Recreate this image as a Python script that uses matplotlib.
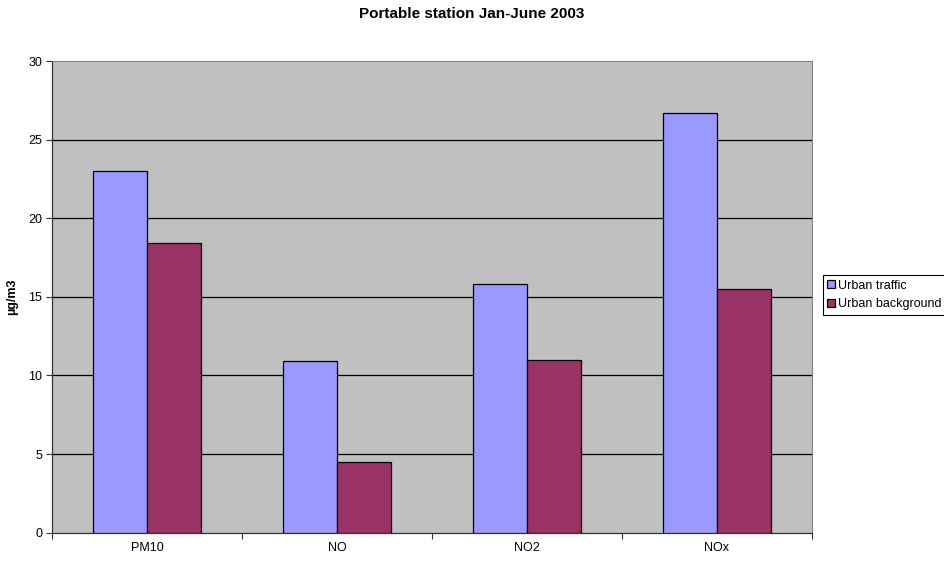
import matplotlib
matplotlib.use("Agg")
import matplotlib.pyplot as plt
import numpy as np

categories = ["PM10", "NO", "NO2", "NOx"]
urban_traffic = [23.0, 10.9, 15.8, 26.7]
urban_background = [18.4, 4.5, 11.0, 15.5]
series_names = ["Urban traffic", "Urban background"]
title = "Portable station Jan-June 2003"
ylabel = "µg/m3"
yticks = [0, 5, 10, 15, 20, 25, 30]

plt.rcParams['font.family'] = ['Liberation Sans', 'DejaVu Sans']

fig = plt.figure(figsize=(9.45, 5.63), dpi=100)
ax = fig.add_axes([52/945, (563-532.7)/563, (812-52)/945, (532.7-61)/563])
ax.set_facecolor("#C0C0C0")

x = np.arange(len(categories))
w = 0.284
ax.bar(x - w/2, urban_traffic, width=w, color="#9999FF", edgecolor="black", linewidth=0.9, label=series_names[0], zorder=3)
ax.bar(x + w/2, urban_background, width=w, color="#993366", edgecolor="black", linewidth=0.9, label=series_names[1], zorder=3)

ax.set_xlim(-0.5, len(categories) - 0.5)
ax.set_ylim(0, 30)
ax.set_yticks(yticks)
ax.set_yticklabels([str(t) for t in yticks], fontsize=9)
for t in yticks[1:-1]:
    ax.axhline(t, color="black", linewidth=0.9, zorder=1)

ax.set_xticks(np.arange(len(categories) + 1) - 0.5)
ax.set_xticklabels([])
ax.set_xticks(x, minor=True)
ax.set_xticklabels(categories, minor=True, fontsize=9)
ax.tick_params(axis='x', which='minor', length=0, pad=7)
ax.tick_params(axis='x', which='major', length=4, direction='out', color='#333333')
ax.tick_params(axis='y', length=4, direction='out', color='#333333', pad=3)

for s in ['top', 'right']:
    ax.spines[s].set_color('#808080')
    ax.spines[s].set_linewidth(0.8)
for s in ['left', 'bottom']:
    ax.spines[s].set_color('#333333')
    ax.spines[s].set_linewidth(0.9)

ax.set_ylabel(ylabel, fontsize=9, fontweight='bold')
ax.yaxis.set_label_coords(-(52 - 18) / 760, 0.5)
fig.text(471.5/945, 1 - 14/563, title, ha='center', va='center', fontsize=11, fontweight='bold')

leg = fig.legend(loc='center left', bbox_to_anchor=(823/945, 1 - 295/563), fontsize=9,
                 frameon=True, fancybox=False, edgecolor='black', framealpha=1,
                 handlelength=0.6, handleheight=0.6, handletextpad=0.25, borderpad=0.35,
                 labelspacing=0.55, borderaxespad=0)
leg.get_frame().set_linewidth(0.8)

fig.savefig("out.png", dpi=100)
